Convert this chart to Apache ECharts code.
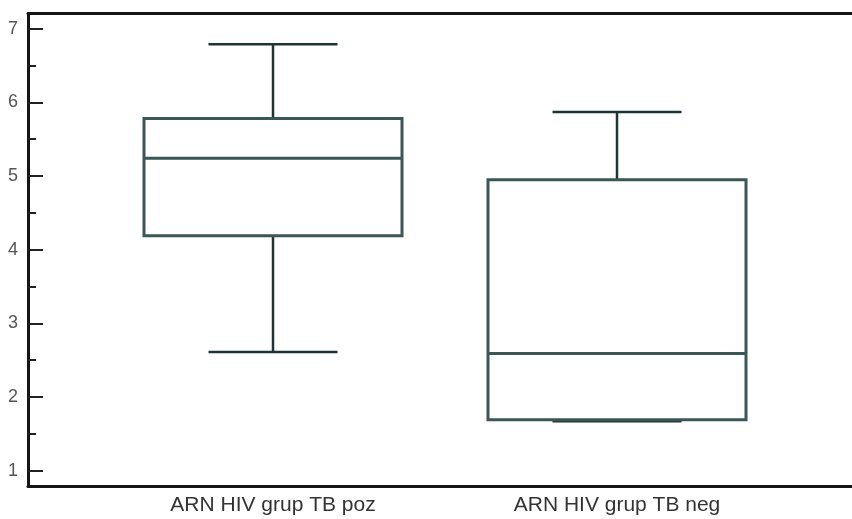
<!DOCTYPE html>
<html>
<head>
<meta charset="utf-8">
<script src="https://cdn.jsdelivr.net/npm/echarts@6/dist/echarts.min.js"></script>
<style>
  html, body { margin: 0; padding: 0; background: #fff; }
  #chart { width: 852px; height: 519px; }
</style>
</head>
<body>
<div id="chart"></div>
<script>
const categories = ["ARN HIV grup TB poz", "ARN HIV grup TB neg"];
const mins = [2.61, 1.67];
const q1s = [4.19, 1.69];
const medians = [5.24, 2.59];
const q3s = [5.78, 4.95];
const maxs = [6.79, 5.87];
const yTicks = [1, 7];

const boxData = categories.map((c, i) => [i, mins[i], q1s[i], medians[i], q3s[i], maxs[i]]);

const chart = echarts.init(document.getElementById("chart"));

function renderBox(params, api) {
  const idx = api.value(0);
  const band = api.size([1, 0])[0];
  const half = band * 0.375;
  const capHalf = band * 0.1875;
  const pMin = api.coord([idx, api.value(1)]);
  const pQ1 = api.coord([idx, api.value(2)]);
  const pMed = api.coord([idx, api.value(3)]);
  const pQ3 = api.coord([idx, api.value(4)]);
  const pMax = api.coord([idx, api.value(5)]);
  const cx = pMed[0];
  const boxStyle = { stroke: "#3a5656", lineWidth: 3, fill: null };
  const whiskStyle = { stroke: "#1e3434", lineWidth: 2.5 };
  return {
    type: "group",
    children: [
      // whiskers
      { type: "line", shape: { x1: cx, y1: pQ3[1], x2: cx, y2: pMax[1] }, style: whiskStyle },
      { type: "line", shape: { x1: cx, y1: pQ1[1], x2: cx, y2: pMin[1] }, style: whiskStyle },
      { type: "line", shape: { x1: cx - capHalf, y1: pMax[1], x2: cx + capHalf, y2: pMax[1] }, style: whiskStyle },
      { type: "line", shape: { x1: cx - capHalf, y1: pMin[1], x2: cx + capHalf, y2: pMin[1] }, style: whiskStyle },
      // box + median
      { type: "rect", shape: { x: cx - half, y: pQ3[1], width: half * 2, height: pQ1[1] - pQ3[1] }, style: boxStyle },
      { type: "line", shape: { x1: cx - half, y1: pMed[1], x2: cx + half, y2: pMed[1] }, style: boxStyle }
    ]
  };
}

const frameLine = { show: true, lineStyle: { color: "#151515", width: 3 } };

chart.setOption({
  backgroundColor: "#fff",
  animation: false,
  grid: [
    // frame (open on the right)
    { left: 28, top: 13.5, bottom: 33, right: 0 },
    // boxes + ticks
    { left: 101, width: 688, top: 28.7, bottom: 48.3 }
  ],
  xAxis: [
    { gridIndex: 0, type: "value", position: "bottom", axisLine: frameLine, axisTick: { show: false }, axisLabel: { show: false }, splitLine: { show: false } },
    { gridIndex: 0, type: "value", position: "top", axisLine: frameLine, axisTick: { show: false }, axisLabel: { show: false }, splitLine: { show: false } },
    {
      gridIndex: 1,
      type: "category",
      data: categories,
      boundaryGap: true,
      axisLine: { show: false },
      axisTick: { show: false },
      axisLabel: { color: "#333", fontSize: 21, fontFamily: "Liberation Sans, Arial, sans-serif", margin: 24 }
    }
  ],
  yAxis: [
    { gridIndex: 0, type: "value", position: "left", axisLine: frameLine, axisTick: { show: false }, axisLabel: { show: false }, splitLine: { show: false } },
    {
      gridIndex: 1,
      type: "value",
      min: yTicks[0],
      max: yTicks[1],
      interval: 1,
      offset: 73,
      axisLine: { show: false },
      axisTick: { show: true, inside: true, length: 15, lineStyle: { color: "#222", width: 2 } },
      minorTick: { show: true, splitNumber: 2, length: 8, lineStyle: { color: "#222", width: 2 } },
      splitLine: { show: false },
      axisLabel: { color: "#555", fontSize: 18, fontFamily: "Liberation Sans, Arial, sans-serif", margin: 10 }
    }
  ],
  series: [
    {
      type: "custom",
      xAxisIndex: 2,
      yAxisIndex: 1,
      renderItem: renderBox,
      encode: { x: 0, y: [1, 2, 3, 4, 5] },
      data: boxData
    }
  ]
});

window.addEventListener("resize", () => chart.resize());
</script>
</body>
</html>
